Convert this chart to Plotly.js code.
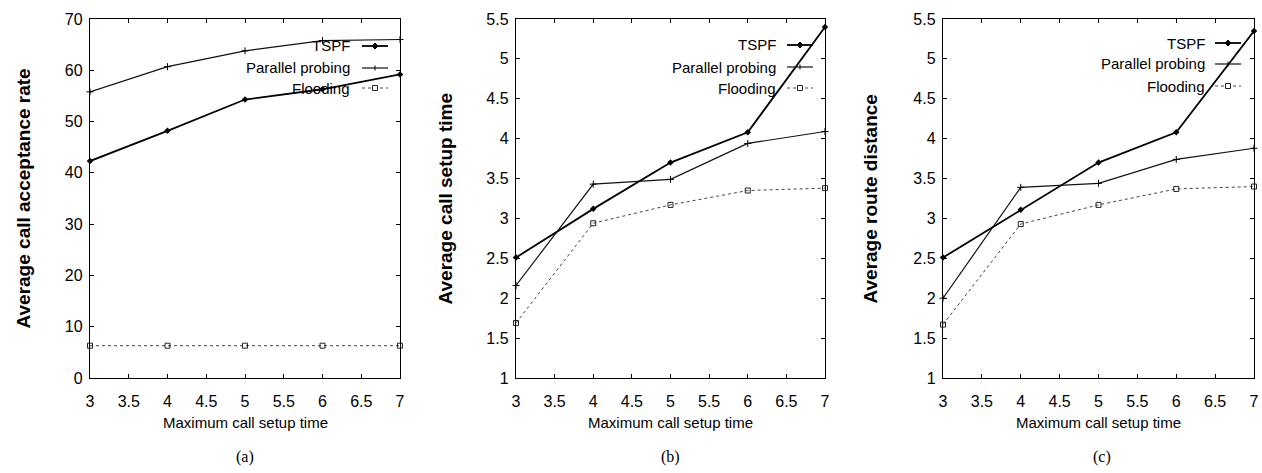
<!DOCTYPE html>
<html>
<head>
<meta charset="utf-8">
<script src="https://cdn.plot.ly/plotly-3.0.1.min.js"></script>
<style>html,body{margin:0;padding:0;background:#fff;}#chart{width:1262px;height:473px;}</style>
</head>
<body>
<div id="chart"></div>
<script>
// ---- data ----
const xValues = [3, 4, 5, 6, 7];
const seriesNames = ["TSPF", "Parallel probing", "Flooding"];
const acceptTSPF = [42.3, 48.2, 54.3, 56.3, 59.2];
const acceptParallel = [55.8, 60.7, 63.8, 65.8, 66.0];
const acceptFlooding = [6.3, 6.3, 6.3, 6.3, 6.3];
const setupTSPF = [2.51, 3.12, 3.70, 4.08, 5.40];
const setupParallel = [2.16, 3.43, 3.49, 3.94, 4.09];
const setupFlooding = [1.69, 2.94, 3.17, 3.35, 3.38];
const routeTSPF = [2.51, 3.11, 3.70, 4.08, 5.35];
const routeParallel = [2.00, 3.39, 3.44, 3.74, 3.88];
const routeFlooding = [1.67, 2.93, 3.17, 3.37, 3.40];
const yTitles = ["Average call acceptance rate", "Average call setup time", "Average route distance"];
const xTitle = "Maximum call setup time";
const captions = ["(a)", "(b)", "(c)"];

// ---- layout helpers ----
const W = 1262, H = 473;
const px = v => v / W;
const py = v => 1 - v / H;
const sans = "'Liberation Sans', Arial, sans-serif";
const panels = [
  {x0: 90, x1: 400, yr: [0, 70], dt: 10, data: [acceptTSPF, acceptParallel, acceptFlooding], yt: 23, leg: {tx: 352, l0: 362, l1: 388, ys: [46, 68, 88]}, cap: 245},
  {x0: 516, x1: 825, yr: [1, 5.5], dt: 0.5, data: [setupTSPF, setupParallel, setupFlooding], yt: 445, leg: {tx: 778, l0: 787, l1: 813, ys: [45, 67, 88]}, cap: 670},
  {x0: 943, x1: 1254, yr: [1, 5.5], dt: 0.5, data: [routeTSPF, routeParallel, routeFlooding], yt: 870, leg: {tx: 1207, l0: 1215, l1: 1241, ys: [43, 64, 86]}, cap: 1102}
];
const styles = [
  {line: {color: "#000", width: 1.8, dash: "solid"}, marker: {symbol: "diamond", size: 5, color: "#000"}},
  {line: {color: "#111", width: 1.2, dash: "solid"}, marker: {symbol: "cross-thin-open", size: 5, color: "#000", line: {width: 1, color: "#000"}}},
  {line: {color: "#444", width: 1, dash: "dot"}, marker: {symbol: "square-open", size: 5, color: "#222", line: {width: 1, color: "#222"}}}
];

const traces = [];
const layout = {
  width: W, height: H,
  margin: {l: 0, r: 0, t: 0, b: 0},
  paper_bgcolor: "#fff", plot_bgcolor: "#fff",
  showlegend: false,
  font: {family: sans, size: 16, color: "#000"},
  annotations: [], shapes: []
};
const yTop = 19, yBot = 378;

panels.forEach((p, i) => {
  const n = i === 0 ? "" : String(i + 1);
  const xa = "xaxis" + n, ya = "yaxis" + n;
  layout[xa] = {
    domain: [px(p.x0), px(p.x1)], range: [3, 7], dtick: 0.5, tick0: 3,
    anchor: "y" + n, showgrid: false, zeroline: false,
    showline: true, linecolor: "#000", linewidth: 1.2, mirror: "ticks",
    ticks: "inside", ticklen: 4, tickcolor: "#000", ticklabelstandoff: 9,
    tickfont: {family: sans, size: 16, color: "#000"}
  };
  layout[ya] = {
    domain: [py(yBot), py(yTop)], range: p.yr, dtick: p.dt, tick0: 0,
    anchor: "x" + n, showgrid: false, zeroline: false,
    showline: true, linecolor: "#000", linewidth: 1.2, mirror: "ticks",
    ticks: "inside", ticklen: 4, tickcolor: "#000", ticklabelstandoff: 3,
    tickfont: {family: sans, size: 16, color: "#000"}
  };
  p.data.forEach((ys, k) => {
    traces.push({
      type: "scatter", mode: "lines+markers", x: xValues, y: ys,
      xaxis: "x" + n, yaxis: "y" + n, name: seriesNames[k],
      line: styles[k].line, marker: styles[k].marker, cliponaxis: false
    });
  });
  // axis titles
  layout.annotations.push({
    xref: "paper", yref: "paper", x: px(p.yt), y: py((yTop + yBot) / 2),
    text: yTitles[i], textangle: -90, showarrow: false,
    font: {family: sans, size: 19, color: "#000", weight: "bold"},
    xanchor: "center", yanchor: "middle"
  });
  layout.annotations.push({
    xref: "paper", yref: "paper", x: px((p.x0 + p.x1) / 2), y: py(422),
    text: xTitle, showarrow: false,
    font: {family: sans, size: 15, color: "#000"}, xanchor: "center", yanchor: "middle"
  });
  layout.annotations.push({
    xref: "paper", yref: "paper", x: px(p.cap), y: py(457),
    text: captions[i], showarrow: false,
    font: {family: "'Liberation Serif', 'Times New Roman', serif", size: 16, color: "#000"}, xanchor: "center", yanchor: "middle"
  });
  // legend (gnuplot style: text, then sample)
  seriesNames.forEach((nm, k) => {
    const yy = p.leg.ys[k];
    layout.annotations.push({
      xref: "paper", yref: "paper", x: px(p.leg.tx), y: py(yy),
      text: nm, showarrow: false, xanchor: "right", yanchor: "middle",
      font: {family: sans, size: 15, color: "#000"}
    });
    layout.shapes.push({
      type: "line", xref: "paper", yref: "paper",
      x0: px(p.leg.l0), x1: px(p.leg.l1), y0: py(yy), y1: py(yy),
      line: {color: styles[k].line.color, width: styles[k].line.width, dash: styles[k].line.dash}
    });
    const cx = (p.leg.l0 + p.leg.l1) / 2;
    if (k === 0) {
      layout.shapes.push({type: "path", xref: "paper", yref: "paper",
        path: `M ${px(cx - 3)} ${py(yy)} L ${px(cx)} ${py(yy - 3)} L ${px(cx + 3)} ${py(yy)} L ${px(cx)} ${py(yy + 3)} Z`,
        fillcolor: "#000", line: {color: "#000", width: 1}});
    } else if (k === 1) {
      layout.shapes.push({type: "line", xref: "paper", yref: "paper",
        x0: px(cx), x1: px(cx), y0: py(yy - 2.5), y1: py(yy + 2.5), line: {color: "#000", width: 1}});
    } else {
      layout.shapes.push({type: "rect", xref: "paper", yref: "paper",
        x0: px(cx - 2.5), x1: px(cx + 2.5), y0: py(yy - 2.5), y1: py(yy + 2.5),
        fillcolor: "#fff", line: {color: "#222", width: 1}});
    }
  });
});

Plotly.newPlot("chart", traces, layout, {displayModeBar: false, staticPlot: true});
</script>
</body>
</html>
